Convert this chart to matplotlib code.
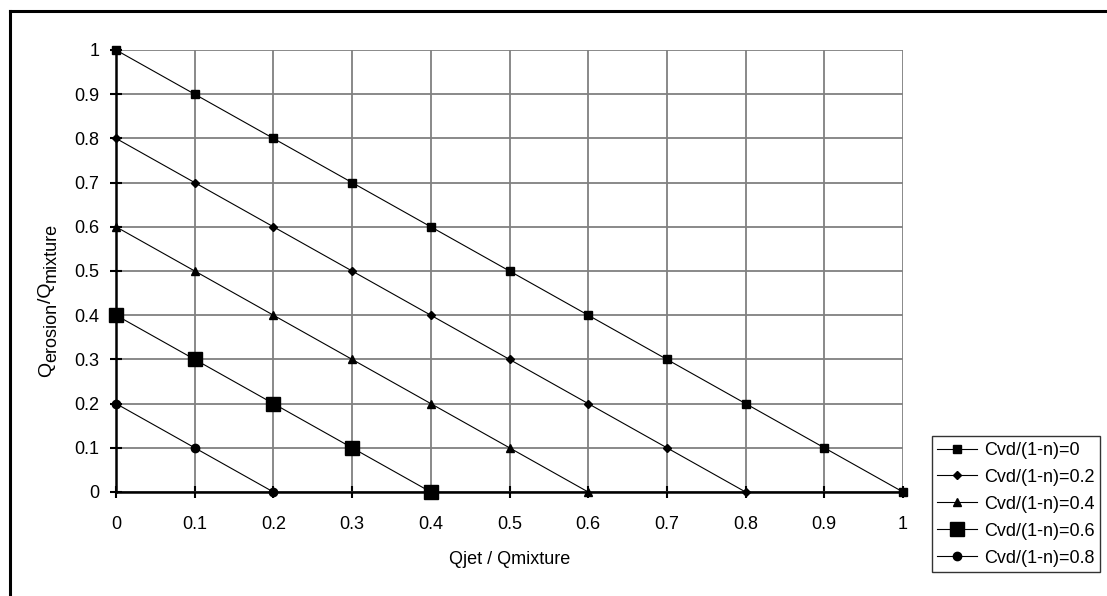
import matplotlib
matplotlib.use("Agg")
import matplotlib.pyplot as plt
from matplotlib.lines import Line2D
from matplotlib.ticker import FormatStrFormatter, MultipleLocator

plt.rcParams['font.family'] = ['Liberation Sans', 'DejaVu Sans']

labels = ['Cvd/(1-n)=0', 'Cvd/(1-n)=0.2', 'Cvd/(1-n)=0.4',
          'Cvd/(1-n)=0.6', 'Cvd/(1-n)=0.8']
x_c0 = [0, 0.1, 0.2, 0.3, 0.4, 0.5, 0.6, 0.7, 0.8, 0.9, 1.0]
y_c0 = [1.0, 0.9, 0.8, 0.7, 0.6, 0.5, 0.4, 0.3, 0.2, 0.1, 0]
x_c2 = [0, 0.1, 0.2, 0.3, 0.4, 0.5, 0.6, 0.7, 0.8]
y_c2 = [0.8, 0.7, 0.6, 0.5, 0.4, 0.3, 0.2, 0.1, 0]
x_c4 = [0, 0.1, 0.2, 0.3, 0.4, 0.5, 0.6]
y_c4 = [0.6, 0.5, 0.4, 0.3, 0.2, 0.1, 0]
x_c6 = [0, 0.1, 0.2, 0.3, 0.4]
y_c6 = [0.4, 0.3, 0.2, 0.1, 0]
x_c8 = [0, 0.1, 0.2]
y_c8 = [0.2, 0.1, 0]

W, H = 1107, 596
fig = plt.figure(figsize=(W/100, H/100), dpi=100)
ax = fig.add_axes([116/W, 1-492/H, (903-116)/W, (492-50)/H])

# outer chart frame (left and top edges visible)
fig.add_artist(Line2D([10/W, 10/W], [0, 1-11/H], color='black', lw=2.2))
fig.add_artist(Line2D([10/W, 1], [1-11/H, 1-11/H], color='black', lw=2.2))

series = [(x_c0, y_c0, 's', 6), (x_c2, y_c2, 'D', 4.5), (x_c4, y_c4, '^', 6),
          (x_c6, y_c6, 's', 10), (x_c8, y_c8, 'o', 6)]
for (xs, ys, m, ms), lab in zip(series, labels):
    ax.plot(xs, ys, color='black', lw=0.8, marker=m, ms=ms, label=lab,
            clip_on=False, zorder=5)

ax.set_xlim(0, 1)
ax.set_ylim(0, 1)
ax.xaxis.set_major_locator(MultipleLocator(0.1))
ax.yaxis.set_major_locator(MultipleLocator(0.1))
ax.xaxis.set_major_formatter(FormatStrFormatter('%g'))
ax.yaxis.set_major_formatter(FormatStrFormatter('%g'))
ax.grid(True, color='#808080', lw=1.3)
ax.set_axisbelow(True)
for s in ['top', 'right']:
    ax.spines[s].set_visible(False)
for s in ['left', 'bottom']:
    ax.spines[s].set_linewidth(1.8)
ax.tick_params(direction='inout', length=8, width=1.5, labelsize=13)
ax.tick_params(axis='x', pad=13)
ax.tick_params(axis='y', pad=8)

ax.set_xlabel('Qjet / Qmixture', fontsize=13, labelpad=13)

# y label built from pieces so the subscripts stay large
renderer = fig.canvas.get_renderer()
pieces = [('Q', 14, 0), ('erosion', 13, 5), ('/Q', 14, 0), ('mixture', 13, 5)]
ypos = 219
for txt, size, drop in pieces:
    t = fig.text((51 + drop)/W, ypos/H, txt, fontsize=size, rotation=90,
                 rotation_mode='anchor', ha='left', va='baseline')
    ypos += t.get_window_extent(renderer).height

leg = fig.legend(loc='lower left', bbox_to_anchor=(932/W, 24/H),
                 borderaxespad=0, fontsize=13, frameon=True, fancybox=False,
                 edgecolor='black', handlelength=2.2, handletextpad=0.4,
                 labelspacing=0.55, borderpad=0.3)
leg.get_frame().set_linewidth(1.0)

fig.savefig('out.png', dpi=100)
